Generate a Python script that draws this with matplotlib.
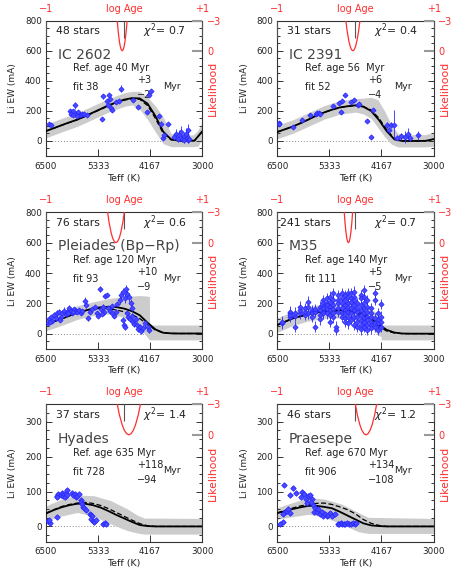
import matplotlib
matplotlib.use('Agg')
import matplotlib.pyplot as plt
from matplotlib.ticker import MultipleLocator

plt.rcParams['font.family'] = 'DejaVu Sans'

RED = '#ff2d2d'
BLUE = '#2a2aff'

# ------------------------------------------------------------------ data
names = ['IC 2602', 'IC 2391', 'Pleiades (Bp\u2212Rp)', 'M35', 'Hyades', 'Praesepe']
n_stars = [48, 31, 76, 241, 37, 46]
chi2 = ['0.7', '0.4', '0.6', '0.7', '1.4', '1.2']
ref_age = ['40 Myr', '56  Myr', '120 Myr', '140 Myr', '635 Myr', '670 Myr']
fit_age = ['38', '52', '93', '111', '728', '906']
err_up = ['+3', '+6', '+10', '+5', '+118', '+134']
err_lo = ['\u22122', '\u22124', '\u22129', '\u22125', '\u221294', '\u2212108']

# model grid in Teff (shared by fit and reference curves)
grid = [6500, 6325, 6150, 5975, 5800, 5625, 5450, 5275, 5100, 4925, 4750,
        4575, 4400, 4225, 4050, 3875, 3700, 3525, 3350, 3175, 3000]

# likelihood levels for the red curve (log Age positions per cluster below)
lik = [-3.5, -2.0, -1.0, -0.45, -0.1, 0.0, -0.1, -0.45, -1.0, -2.0, -3.5]

# IC 2602
ic2602_fit = [66, 85, 105, 124, 142, 165, 189, 213, 237, 257, 275, 285, 283, 248, 166, 62, 11, 2, 2, 2, 65]
ic2602_ref = [66, 85, 104, 123, 141, 163, 187, 210, 234, 254, 271, 281, 277, 235, 150, 50, 8, 1, 1, 2, 62]
ic2602_band_teff = [6500, 6150, 5800, 5450, 5100, 4750, 4575, 4400, 4225, 4050, 3875, 3700, 3525, 3200, 3100, 3000]
ic2602_band_hi = [112, 150, 187, 234, 282, 320, 330, 330, 290, 233, 159, 49, 40, 40, 70, 125]
ic2602_band_lo = [21, 60, 97, 144, 192, 230, 240, 210, 143, 60, -18, -38, -38, -38, -35, 15]
ic2602_lage = [-0.094, -0.077, -0.062, -0.050, -0.037, -0.025, -0.013, 0.000, 0.012, 0.027, 0.044]
ic2602_teff = [6433, 6395,
               5961, 5931, 5886, 5849, 5819, 5782, 5737, 5700, 5647, 5572, 5812, 5886,
               5250, 5214, 5124, 5087, 5064, 5102, 5048, 5011,
               4824, 4936, 4861, 4563, 4429, 4240, 4150, 4204,
               3964, 3928, 3891, 3779, 3853,
               3627, 3590, 3553, 3515, 3478, 3463, 3418, 3403, 3366, 3343, 3328, 3313, 3291]
ic2602_ew = [115, 104,
             197, 182, 197, 237, 182, 193, 171, 182, 182, 175, 164, 173,
             148, 297, 266, 304, 281, 237, 222, 208,
             348, 259, 266, 270, 228, 195, 332, 306,
             164, 115, 22, 115, 38,
             27, 49, 16, 38, 60, 16, 31, 4, 49, 22, 9, 71, 16]
ic2602_err = [10, 10,
              12, 10, 12, 25, 10, 12, 10, 10, 12, 10, 10, 10,
              8, 15, 12, 12, 10, 10, 12, 10,
              25, 12, 12, 12, 12, 12, 15, 12,
              12, 15, 12, 12, 12,
              20, 30, 25, 35, 40, 25, 30, 15, 35, 25, 20, 40, 25]

# IC 2391
ic2391_fit = [60, 78, 96, 119, 143, 169, 190, 208, 223, 231, 237, 228, 200, 140, 65, 10, 0, 0, 0, 1, 12]
ic2391_ref = [60, 78, 96, 119, 143, 169, 190, 208, 222, 230, 236, 230, 206, 152, 75, 15, 1, 0, 0, 1, 12]
ic2391_band_teff = [6500, 6150, 5800, 5450, 5100, 4750, 4575, 4400, 4250, 4100, 3950, 3800, 3650, 3200, 3000]
ic2391_band_hi = [105, 141, 188, 235, 268, 282, 285, 290, 275, 200, 110, 50, 42, 42, 55]
ic2391_band_lo = [15, 51, 98, 145, 178, 192, 180, 150, 90, 30, -20, -40, -40, -40, -35]
ic2391_lage = [-0.131, -0.107, -0.085, -0.068, -0.050, -0.033, -0.016, 0.002, 0.019, 0.041, 0.065]
ic2391_teff = [6462, 6462, 6142, 5956, 5770,
               5628, 5605, 5576, 5553,
               5263, 5114, 5077, 5055, 4988,
               4854, 4779, 4704, 4667,
               4481, 4391, 4355,
               4034, 3997, 3944, 3884,
               3809, 3734, 3645, 3571, 3534, 3348]
ic2391_ew = [120, 111, 93, 142, 171,
             182, 188, 186, 177,
             230, 253, 193, 266, 304,
             259, 270, 237, 248,
             133, 27, 206,
             104, 71, 108, 108,
             22, 31, 27, 49, 22, 38]
ic2391_err = [10, 10, 10, 10, 10,
              10, 12, 10, 10,
              10, 12, 10, 10, 12,
              12, 12, 10, 12,
              10, 15, 15,
              20, 20, 20, 95,
              15, 25, 40, 35, 25, 30]

# Pleiades
pleiades_fit = [62, 81, 99, 119, 139, 153, 166, 175, 178, 176, 166, 149, 122, 73, 29, 7, 3, 2, 2, 2, 2]
pleiades_ref = [62, 81, 99, 119, 139, 152, 163, 168, 165, 157, 145, 127, 100, 62, 24, 6, 2, 2, 2, 2, 2]
pleiades_band_teff = [6500, 6150, 5800, 5450, 5100, 4750, 4400, 4225, 4185, 4180, 3000]
pleiades_band_hi = [105, 145, 185, 210, 232, 245, 252, 248, 245, 58, 58]
pleiades_band_lo = [20, 55, 95, 120, 130, 110, 40, -25, -40, -40, -40]
pleiades_lage = [-0.221, -0.193, -0.167, -0.147, -0.125, -0.105, -0.085, -0.063, -0.043, -0.017, 0.011]
pleiades_teff = [6455, 6433, 6395, 6358, 6320, 6283, 6246, 6208, 6171, 6133, 6096, 6059, 6021,
                 5984, 5947, 5909, 5872, 5834, 5797, 5760, 5722, 5685, 6410, 6186, 6006, 5887,
                 5632, 5602, 5558, 5513, 5460, 5408, 5363, 5326, 5288, 5258, 5213,
                 5184, 5139, 5199, 5236, 5101, 5064, 5012, 4974, 4937, 4899, 5026,
                 4839, 4810, 4780, 4735, 4705, 4675, 4638, 4600, 4570, 4690, 4660, 4615, 4585,
                 4555, 4525, 4495, 4466, 4436, 4406, 4376, 4331, 4286, 4226, 4189, 4750, 4780, 4720]
pleiades_ew = [73, 95, 108, 86, 124, 102, 135, 146, 113, 135, 152, 128, 146,
               168, 152, 139, 161, 152, 146, 157, 139, 150, 80, 91, 135, 141,
               219, 190, 102, 146, 161, 174, 135, 117, 293, 161, 179,
               250, 256, 146, 130, 168, 152, 183, 117, 146, 196, 135,
               223, 255, 277, 233, 293, 262, 240, 205, 168, 135, 108, 95, 117,
               80, 65, 95, 58, 29, 47, 21, 36, 69, 47, 25, 58, 91, 47]
pleiades_err = [15, 12, 12, 15, 20, 15, 25, 15, 12, 15, 25, 15, 15,
                20, 15, 12, 15, 12, 15, 15, 12, 15, 12, 15, 15, 12,
                25, 20, 15, 15, 15, 15, 15, 15, 20, 15, 15,
                15, 15, 20, 15, 15, 15, 15, 15, 15, 15, 15,
                25, 30, 25, 30, 30, 25, 30, 25, 20, 20, 20, 20, 20,
                20, 20, 20, 20, 20, 20, 20, 20, 25, 20, 20, 20, 20, 20]

# M35
m35_fit = [58, 80, 102, 117, 130, 140, 148, 153, 156, 152, 145, 128, 99, 60, 26, 8, 2, 1, 1, 1, 1]
m35_ref = [58, 80, 101, 115, 127, 136, 143, 148, 150, 143, 133, 114, 85, 48, 18, 5, 1, 1, 1, 1, 1]
m35_band_teff = [6500, 6150, 5800, 5450, 5100, 4750, 4400, 4225, 4175, 4170, 3000]
m35_band_hi = [105, 148, 178, 198, 210, 205, 165, 125, 115, 58, 58]
m35_band_lo = [10, 55, 85, 100, 105, 90, 40, -10, -20, -40, -40]
m35_lage = [-0.148, -0.134, -0.121, -0.111, -0.100, -0.090, -0.080, -0.069, -0.059, -0.046, -0.032]
m35_teff = [6402, 6402,
            6215, 6215, 6215, 6215,
            6105, 6105, 6105,
            5993, 5993, 5993,
            5881, 5881, 5881,
            5807, 5807, 5807,
            5733, 5733, 5733, 5733,
            5658, 5658, 5658, 5658,
            5547, 5547, 5547, 5547,
            5472, 5472, 5472, 5472, 5472, 5472,
            5397, 5397, 5397, 5397, 5397,
            5323, 5323, 5323, 5323, 5323, 5323,
            5248, 5248, 5248, 5248, 5248, 5248,
            5189, 5189,
            5136, 5136, 5136, 5136, 5136,
            5062, 5062, 5062, 5062, 5062, 5062,
            4988, 4988, 4988, 4988, 4988, 4988, 4988,
            4913, 4913, 4913, 4913, 4913, 4913, 4913,
            4839, 4839, 4839, 4839, 4839, 4839,
            4779, 4779, 4779, 4779, 4779, 4779, 4779,
            4705, 4705, 4705, 4705, 4705, 4705,
            4630, 4630, 4630, 4630, 4630, 4630, 4630, 4630,
            4556, 4556, 4556, 4556, 4556, 4556, 4556, 4556,
            4481, 4481, 4481, 4481, 4481, 4481, 4481,
            4392, 4392, 4392, 4392, 4392, 4392,
            4317, 4317, 4317, 4317, 4317,
            4243, 4243, 4243, 4243,
            4183, 4183, 4183, 4183]
m35_ew = [69, 80,
          113, 135, 146, 124,
          47, 117, 139,
          135, 157, 179,
          124, 146, 168,
          212, 179, 135,
          146, 157, 135, 113,
          157, 146, 161, 47,
          179, 157, 124, 95,
          223, 201, 183, 168, 146, 135,
          234, 205, 190, 161, 135,
          245, 212, 179, 157, 124, 80,
          267, 223, 190, 161, 135, 108,
          47, 25,
          256, 223, 201, 168, 146,
          267, 234, 201, 168, 135, 113,
          256, 223, 190, 157, 135, 102, 80,
          267, 245, 201, 179, 146, 113, 69,
          267, 234, 212, 168, 135, 91,
          277, 245, 223, 190, 157, 113, 58,
          201, 168, 146, 113, 80, 47,
          256, 234, 190, 157, 124, 91, 58, 29,
          288, 245, 201, 168, 135, 102, 80, 47,
          223, 179, 146, 113, 91, 58, 25,
          168, 135, 113, 80, 58, 36,
          267, 223, 102, 69, 47,
          135, 91, 69, 25,
          196, 113, 80, 47]
m35_err = 35

# Hyades
hyades_fit = [37, 47, 55, 61, 65, 65, 61, 54, 44, 33, 23, 13, 4, 1, 0, 0, 0, 0, 0, 0, 0]
hyades_ref = [38, 48, 57, 63, 67, 69, 66, 60, 51, 40, 29, 18, 8, 2, 0, 0, 0, 0, 0, 0, 0]
hyades_band_teff = [6500, 6150, 5800, 5425, 5050, 4675, 4450, 4300, 3000]
hyades_band_hi = [59, 78, 90, 88, 74, 50, 32, 24, 23]
hyades_band_lo = [15, 30, 40, 29, 7, -12, -19, -22, -22]
hyades_lage = [-0.101, -0.062, -0.026, 0.002, 0.033, 0.060, 0.087, 0.118, 0.146, 0.182, 0.221]
hyades_teff = [6455, 6410, 6433, 6246, 6261, 6231, 6246, 6156, 6134, 6111, 6096, 6059, 6036,
               6081, 6021, 5909, 5887, 5857, 5834, 5797, 5760, 5722, 5707, 5685, 5662, 5647,
               5610, 5513, 5483, 5460, 5498, 5438, 5423, 5386, 5214, 5184, 5161]
hyades_ew = [16, 11, 19, 26, 88, 93, 83, 90, 95, 88, 93, 95, 105,
             83, 90, 97, 90, 93, 83, 88, 93, 76, 69, 64, 57, 52,
             48, 35, 32, 29, 21, 16, 13, 19, 7, 10, 7]

# Praesepe
praesepe_fit = [38, 44, 50, 55, 59, 59, 56, 52, 42, 31, 20, 9, 3, 1, 0, 0, 0, 0, 0, 0, 0]
praesepe_ref = [39, 46, 53, 59, 63, 66, 67, 63, 56, 48, 36, 20, 9, 3, 0, 0, 0, 0, 0, 0, 0]
praesepe_band_teff = [6500, 5800, 5435, 5060, 4690, 4465, 3000]
praesepe_band_hi = [54, 83, 78, 64, 40, 26, 23]
praesepe_band_lo = [21, 35, 26, 7, -15, -20, -20]
praesepe_lage = [-0.013, 0.023, 0.056, 0.082, 0.110, 0.135, 0.160, 0.188, 0.214, 0.247, 0.283]
praesepe_teff = [6343, 6440, 6365, 6216, 6142, 6090, 5971, 5941, 5896, 5866, 5807, 5770, 5732,
                 6328, 6291, 6254, 6216, 6365, 5695, 5658, 5673, 5620, 5583, 5546, 5509, 5472,
                 5434, 5397, 5360, 5323, 5285, 5211, 5747, 5844,
                 5135, 5110, 5080, 5050, 5010, 4975, 4940, 4900, 4850, 4800, 4760, 4740]
praesepe_ew = [118, 7, 13, 91, 109, 97, 83, 99, 93, 78, 86, 90, 80,
               40, 45, 50, 38, 35, 61, 54, 42, 40, 50, 35, 40, 31,
               35, 29, 32, 38, 31, 35, 69, 67,
               8, 7, 9, 7, 8, 7, 9, 7, 8, 10, 7, 9]

panels = [
    (ic2602_teff, ic2602_ew, ic2602_err, ic2602_fit, ic2602_ref,
     ic2602_band_teff, ic2602_band_lo, ic2602_band_hi, ic2602_lage),
    (ic2391_teff, ic2391_ew, ic2391_err, ic2391_fit, ic2391_ref,
     ic2391_band_teff, ic2391_band_lo, ic2391_band_hi, ic2391_lage),
    (pleiades_teff, pleiades_ew, pleiades_err, pleiades_fit, pleiades_ref,
     pleiades_band_teff, pleiades_band_lo, pleiades_band_hi, pleiades_lage),
    (m35_teff, m35_ew, m35_err, m35_fit, m35_ref,
     m35_band_teff, m35_band_lo, m35_band_hi, m35_lage),
    (hyades_teff, hyades_ew, None, hyades_fit, hyades_ref,
     hyades_band_teff, hyades_band_lo, hyades_band_hi, hyades_lage),
    (praesepe_teff, praesepe_ew, None, praesepe_fit, praesepe_ref,
     praesepe_band_teff, praesepe_band_lo, praesepe_band_hi, praesepe_lage),
]

# ------------------------------------------------------------------ layout (pixels)
W, H = 463.0, 579.0
col_x = [46.0, 277.3]
panel_w = 156.3
rows = [(20.7, 156.0), (212.3, 349.0), (404.3, 541.7)]
ylims = [(-100, 800), (-100, 800), (-43.75, 350)]
ysteps = [200, 200, 100]

fig = plt.figure(figsize=(W / 100, H / 100), dpi=100)


def fx(x):
    return x / W


def fy(y):
    return 1 - y / H


for i, (teff, ew, err, fit, ref, bt, blo, bhi, lage) in enumerate(panels):
    col, row = i % 2, i // 2
    x0 = col_x[col]
    top, bot = rows[row]
    rect = [fx(x0), fy(bot), panel_w / W, (bot - top) / H]

    ax = fig.add_axes(rect)
    ax.set_xlim(6500, 3000)
    ax.set_ylim(*ylims[row])

    ax.axhline(0, color='#888888', ls=(0, (1, 2)), lw=0.7, zorder=0.5)
    ax.fill_between(bt, blo, bhi, color='#cccccc', lw=0, zorder=1)
    ax.plot(grid, ref, color='k', ls=(0, (4, 2)), lw=0.9, zorder=3)
    ax.plot(grid, fit, color='k', lw=1.3, zorder=4)
    if err is None:
        ax.plot(teff, ew, 'D', ms=2.8, color=BLUE, mfc='#4a4aff', mec=BLUE, mew=0.6, zorder=5)
    else:
        ax.errorbar(teff, ew, yerr=err, fmt='D', ms=2.6, color=BLUE, mfc='#4a4aff',
                    mec=BLUE, mew=0.6, elinewidth=0.6, capsize=0, zorder=5)

    ax.set_xticks([6500, 5333, 4167, 3000])
    ax.set_xticklabels(['6500', '5333', '4167', '3000'])
    ax.yaxis.set_major_locator(MultipleLocator(ysteps[row]))
    ax.yaxis.set_minor_locator(MultipleLocator(ysteps[row] / 4))
    ax.tick_params(axis='both', which='both', direction='in', color='#333333',
                   labelcolor='#222222', labelsize=6.3, width=0.7)
    ax.tick_params(axis='y', which='major', length=4, left=True, right=True, pad=3)
    ax.tick_params(axis='y', which='minor', length=2, left=True, right=True)
    ax.tick_params(axis='x', which='major', length=5, top=False, pad=4)
    for sp in ax.spines.values():
        sp.set_color('#333333')
        sp.set_linewidth(0.8)

    # log Age / likelihood overlay
    axl = fig.add_axes(rect, frameon=False)
    axl.patch.set_visible(False)
    axl.set_xlim(-1, 1)
    axl.set_ylim(10.5, -3)
    axl.plot(lage, lik, color=RED, lw=0.9)
    axl.xaxis.tick_top()
    axl.yaxis.tick_right()
    axl.set_xticks([-1, 0, 1])
    axl.set_xticklabels(['\u22121', 'log Age', '+1'])
    axl.set_yticks([-3, 0])
    axl.set_yticklabels(['\u22123', '0'])
    axl.tick_params(axis='x', direction='in', length=12, width=0.8, color='#555555',
                    labelcolor=RED, labelsize=7, pad=5)
    axl.tick_params(axis='y', direction='in', length=7, width=1.5, color='#999999',
                    labelcolor=RED, labelsize=7, pad=3.5)

    # axis titles
    fig.text(fx(x0 - 33), fy((top + bot) / 2), 'Li EW (mA)', rotation=90,
             ha='center', va='center', fontsize=6.5, color='#222222')
    fig.text(fx(x0 + panel_w / 2), fy(bot + 22), 'Teff (K)', ha='center', va='center',
             fontsize=6.8, color='#222222')
    fig.text(fx(x0 + panel_w + 11), fy((top + bot) / 2), 'Likelihood', rotation=90,
             ha='center', va='center', fontsize=7.8, color=RED)

    # annotations
    tr = ax.transAxes
    ax.text(0.345, 0.925, '%d stars' % n_stars[i], transform=tr, ha='right', va='center',
            fontsize=7.8, color='#222222')
    ax.text(0.62, 0.925, r'$\chi^2$= ' + chi2[i], transform=tr, ha='left', va='center',
            fontsize=7.8, color='#222222')
    ax.text(0.075, 0.75, names[i], transform=tr, ha='left', va='center',
            fontsize=10, color='#444444')
    ax.text(0.175, 0.648, 'Ref. age ' + ref_age[i], transform=tr, ha='left', va='center',
            fontsize=7, color='#222222')
    ax.text(0.175, 0.51, 'fit ' + fit_age[i], transform=tr, ha='left', va='center',
            fontsize=7, color='#222222')
    ax.text(0.58, 0.56, err_up[i], transform=tr, ha='left', va='center',
            fontsize=7, color='#222222')
    ax.text(0.58, 0.452, err_lo[i], transform=tr, ha='left', va='center',
            fontsize=7, color='#222222')
    ax.text(0.75, 0.515, 'Myr', transform=tr, ha='left', va='center',
            fontsize=6.8, color='#222222')

fig.savefig('out.png', dpi=100)
